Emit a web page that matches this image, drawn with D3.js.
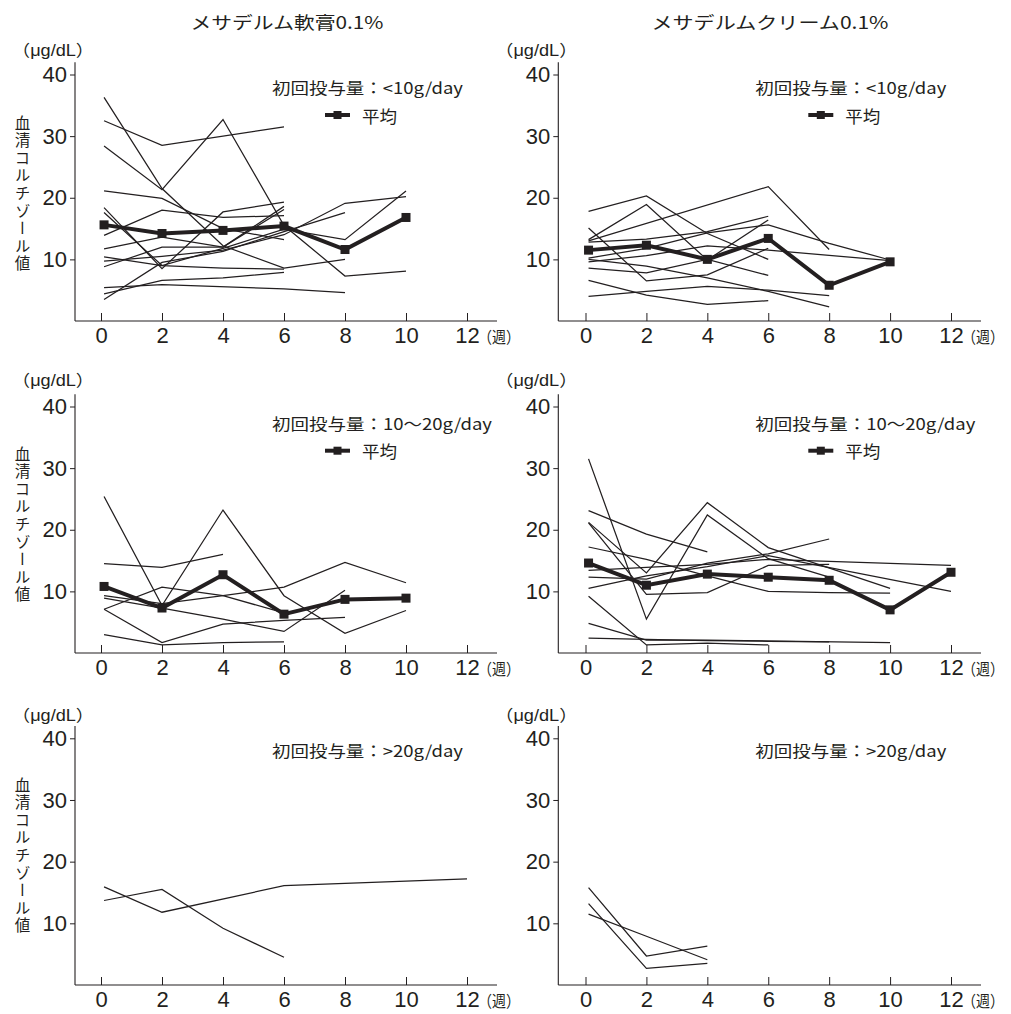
<!DOCTYPE html>
<html><head><meta charset="utf-8">
<script src="https://cdn.jsdelivr.net/npm/d3@7"></script>
<style>body{margin:0;background:#fff}</style>
</head><body>
<svg id="c" width="1011" height="1014"></svg>
<script>
// ---- text ----
const titles = ["メサデルム軟膏0.1%", "メサデルムクリーム0.1%"];
const doseLabels = ["初回投与量：<10g/day", "初回投与量：10〜20g/day", "初回投与量：>20g/day"];
const unitLabel = "（μg/dL）";
const yAxisTitle = "血清コルチゾール値";
const weekUnit = "（週）";
const legendLabel = "平均";
const yTicks = [10, 20, 30, 40];
const xTicks = [0, 2, 4, 6, 8, 10, 12];

// ---- data: [week, µg/dL] ----
const ointLow = [
  [[0.1,36.3],[2,21.5],[4,12.2],[6,8.6],[8,10.0]],
  [[0.1,28.4],[2,21.3],[4,32.7],[6,15.5],[8,7.3],[10,8.1]],
  [[0.1,32.5],[2,28.5],[6,31.5]],
  [[0.1,21.1],[2,19.9],[4,15.0],[6,13.2]],
  [[0.1,18.4],[2,8.5],[4,17.7],[6,19.3]],
  [[0.1,17.6],[2,9.0],[4,11.8],[6,14.9],[8,13.2],[10,21.1]],
  [[0.1,13.9],[2,18.0],[4,16.8],[6,17.1]],
  [[0.1,11.7],[2,13.6],[4,12.0],[6,18.6]],
  [[0.1,10.4],[2,9.0],[4,8.6],[6,8.4]],
  [[0.1,9.7],[2,10.5],[4,11.5],[6,14.0],[8,19.1],[10,20.2]],
  [[0.1,8.8],[2,12.0],[4,12.0],[6,18.1]],
  [[0.1,5.4],[2,5.9],[6,5.2],[8,4.6]],
  [[0.1,4.4],[2,6.6],[4,7.0],[6,7.9]],
  [[0.1,3.5],[2,9.5],[4,11.3],[6,14.5],[8,17.6]]
];
const ointLowMean = [[0.1,15.6],[2,14.2],[4,14.7],[6,15.4],[8,11.6],[10,16.8]];

const creamLow = [
  [[0.1,17.8],[2,20.3],[4,14.2],[6,10.0]],
  [[0.1,13.2],[2,18.9],[4,9.9],[6,16.4]],
  [[0.1,13.0],[6,21.8],[8,11.6]],
  [[0.1,15.1],[2,6.5],[4,7.5],[6,11.8]],
  [[0.1,12.8],[2,13.3],[4,14.5],[6,17.0]],
  [[0.1,10.2],[2,11.8],[4,14.3],[6,15.6],[8,12.6],[10,9.9]],
  [[0.1,9.6],[2,10.6],[4,12.2],[6,11.5],[10,9.8]],
  [[0.1,6.6],[2,4.2],[4,2.7],[6,3.3]],
  [[0.1,4.0],[2,4.8],[4,5.6],[6,5.0],[8,4.1]],
  [[0.1,10.0],[2,8.9],[4,7.0],[6,4.8],[8,2.3]],
  [[0.1,8.6],[2,7.8],[4,10.0],[6,7.4]]
];
const creamLowMean = [[0.1,11.5],[2,12.3],[4,10.0],[6,13.4],[8,5.8],[10,9.6]];

const ointMid = [
  [[0.1,14.5],[2,13.9],[4,16.0]],
  [[0.1,25.4],[2,7.7],[4,23.2],[6,9.3],[8,3.2],[10,6.9]],
  [[0.1,7.1],[2,1.7],[4,4.7],[6,5.3],[8,5.8]],
  [[0.1,3.0],[2,1.3],[4,1.7],[6,1.8]],
  [[0.1,8.9],[2,7.3],[4,5.5],[6,3.5],[8,10.2]],
  [[0.1,9.3],[2,8.0],[4,9.3],[6,10.7],[8,14.7],[10,11.4]],
  [[0.1,7.1],[2,10.7],[4,9.3],[6,6.5]]
];
const ointMidMean = [[0.1,10.8],[2,7.3],[4,12.7],[6,6.3],[8,8.7],[10,8.9]];

const creamMid = [
  [[0.1,31.5],[2,5.5],[4,22.4],[6,15.3],[8,12.3]],
  [[0.1,23.1],[2,19.3],[4,16.4]],
  [[0.1,21.2],[2,13.0],[4,24.4],[6,17.1],[10,10.5]],
  [[0.1,21.1],[2,9.5],[4,9.8],[6,14.2],[8,14.4]],
  [[0.1,17.2],[2,15.2],[4,12.5],[6,10.0],[8,9.8],[10,9.7]],
  [[0.1,13.4],[2,13.9],[4,14.4],[6,15.2],[12,14.2]],
  [[0.1,12.3],[2,12.0],[4,14.6],[6,16.1],[8,18.5]],
  [[0.1,10.5],[2,12.5],[4,14.0],[6,15.8],[12,10.0]],
  [[0.1,9.2],[2,1.3],[4,1.6],[6,1.3]],
  [[0.1,4.8],[2,2.1],[4,2.1],[10,1.7]],
  [[0.1,2.4],[2,2.2],[4,2.0],[6,1.9],[8,1.8]]
];
const creamMidMean = [[0.1,14.6],[2,11.0],[4,12.8],[6,12.3],[8,11.8],[10,7.0],[12,13.1]];

const ointHigh = [
  [[0.1,15.9],[2,11.8],[6,16.1],[12,17.2]],
  [[0.1,13.7],[2,15.5],[4,9.2],[6,4.5]]
];
const creamHigh = [
  [[0.1,15.8],[2,4.7],[4,6.3]],
  [[0.1,13.2],[2,2.7],[4,3.5]],
  [[0.1,11.5],[2,7.9],[4,4.1]]
];

const panels = [
  {col:0,row:0,lines:ointLow,mean:ointLowMean},
  {col:1,row:0,lines:creamLow,mean:creamLowMean},
  {col:0,row:1,lines:ointMid,mean:ointMidMean},
  {col:1,row:1,lines:creamMid,mean:creamMidMean},
  {col:0,row:2,lines:ointHigh,mean:null},
  {col:1,row:2,lines:creamHigh,mean:null}
];

// ---- layout ----
const ink = "#231f20";
const cols = [{axisX:75, x0:101, x12:467},{axisX:558.3, x0:585.5, x12:951}];
const rows = [{y0:321, y40:74.5, dose:87, leg:115, unit:50, yt:115},
              {y0:653, y40:406.5, dose:423.3, leg:450.7, unit:380, yt:446},
              {y0:985, y40:738.3, dose:750, leg:null, unit:715, yt:777}];
const doseLen = [191, 220, 191];
const numFont = "'Liberation Sans', Arial, 'Noto Sans CJK JP', sans-serif";
const jpFont = "'Noto Sans CJK JP', 'Liberation Sans', sans-serif";

const svg = d3.select("#c");

// titles
titles.forEach((t,i)=>{
  svg.append("text").attr("x", i===0?287:770).attr("y",21)
    .attr("text-anchor","middle").attr("dominant-baseline","central")
    .attr("font-family",jpFont).attr("font-size",17.5).attr("fill",ink)
    .attr("textLength", i===0?193:237).attr("lengthAdjust","spacingAndGlyphs")
    .text(t);
});

panels.forEach(p=>{
  const c = cols[p.col], r = rows[p.row];
  const x = d3.scaleLinear().domain([0,12]).range([c.x0,c.x12]);
  const y = d3.scaleLinear().domain([0,40]).range([r.y0,r.y40]);
  const g = svg.append("g");

  // y axis
  const ya = g.append("g").attr("transform",`translate(${c.axisX},0)`)
    .call(d3.axisLeft(y).tickValues(yTicks).tickSize(5).tickPadding(3).tickSizeOuter(0));
  ya.select(".domain").remove();
  ya.selectAll("line").attr("stroke",ink).attr("stroke-width",1);
  ya.selectAll("text").attr("font-family",numFont).attr("font-size",22).attr("fill",ink);
  g.append("line").attr("x1",c.axisX).attr("x2",c.axisX).attr("y1",y(0)).attr("y2",y(42))
    .attr("stroke",ink).attr("stroke-width",1.1);

  // x axis
  const xa = g.append("g").attr("transform",`translate(0,${r.y0})`)
    .call(d3.axisBottom(x).tickValues(xTicks).tickSize(-8).tickPadding(6.5).tickSizeOuter(0));
  xa.select(".domain").remove();
  xa.selectAll("line").attr("stroke",ink).attr("stroke-width",1);
  xa.selectAll("text").attr("font-family",numFont).attr("font-size",22).attr("fill",ink);
  g.append("line").attr("x1",c.axisX).attr("x2",x(12)+30).attr("y1",r.y0).attr("y2",r.y0)
    .attr("stroke",ink).attr("stroke-width",1.1);
  g.append("text").attr("x",x(12)+11).attr("y",r.y0+22)
    .attr("font-family",jpFont).attr("font-size",16).attr("fill",ink)
    .attr("textLength",42).attr("lengthAdjust","spacingAndGlyphs").text(weekUnit);

  // unit label
  g.append("text").attr("x",c.axisX-63).attr("y",r.unit).attr("dominant-baseline","central")
    .attr("font-family",numFont).attr("font-size",16).attr("fill",ink)
    .attr("textLength",82).attr("lengthAdjust","spacingAndGlyphs").text(unitLabel);

  // vertical y title (left column only)
  if (p.col===0) {
    g.append("text").attr("x",22.5).attr("y",r.yt)
      .style("writing-mode","vertical-rl").style("letter-spacing","2.1px")
      .attr("font-family",jpFont).attr("font-size",15.5).attr("fill",ink)
      .text(yAxisTitle);
  }

  // dose label
  g.append("text").attr("x",c.axisX+197).attr("y",r.dose).attr("dominant-baseline","central")
    .attr("font-family",jpFont).attr("font-size",16).attr("fill",ink)
    .attr("textLength",doseLen[p.row]).attr("lengthAdjust","spacingAndGlyphs")
    .text(doseLabels[p.row]);

  // individual lines
  const line = d3.line().x(d=>x(d[0])).y(d=>y(d[1]));
  g.append("g").selectAll("path").data(p.lines).join("path")
    .attr("d",line).attr("fill","none").attr("stroke",ink).attr("stroke-width",1.25)
    .attr("stroke-linejoin","miter");

  // mean
  if (p.mean) {
    g.append("path").attr("d",line(p.mean)).attr("fill","none").attr("stroke",ink)
      .attr("stroke-width",4).attr("stroke-linejoin","miter");
    g.append("g").selectAll("rect").data(p.mean).join("rect")
      .attr("x",d=>x(d[0])-4.5).attr("y",d=>y(d[1])-4.5).attr("width",9).attr("height",9)
      .attr("fill",ink);
    // legend
    const lx = c.axisX+250;
    g.append("line").attr("x1",lx).attr("x2",lx+25).attr("y1",r.leg).attr("y2",r.leg)
      .attr("stroke",ink).attr("stroke-width",4);
    g.append("rect").attr("x",lx+12.5-4).attr("y",r.leg-4).attr("width",8).attr("height",8).attr("fill",ink);
    g.append("text").attr("x",c.axisX+287).attr("y",r.leg).attr("dominant-baseline","central")
      .attr("font-family",jpFont).attr("font-size",17.5).attr("fill",ink).text(legendLabel);
  }
});
</script>
</body></html>
